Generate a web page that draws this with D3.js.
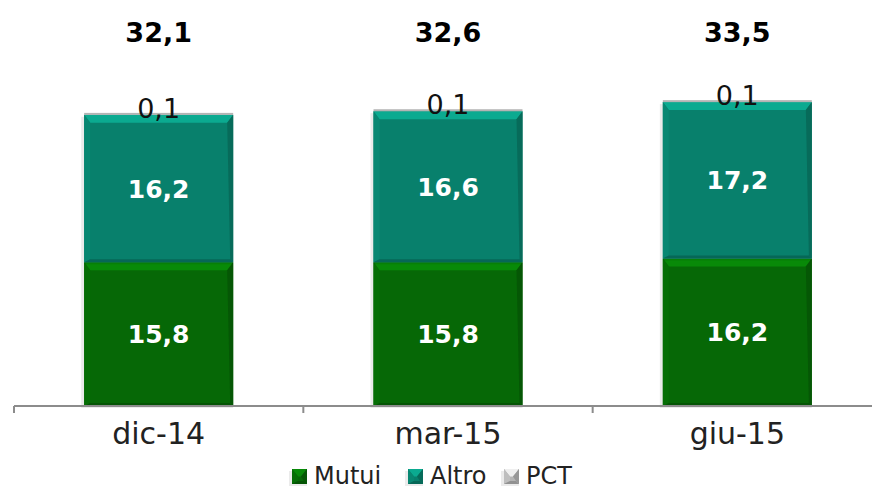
<!DOCTYPE html>
<html>
<head>
<meta charset="utf-8">
<script src="https://cdn.jsdelivr.net/npm/d3@7"></script>
<style>
  body { margin: 0; background: #fff; }
  svg { display: block; }
</style>
</head>
<body>
<script>
// data
var categories = ["dic-14", "mar-15", "giu-15"]
var mutui = [15.8, 15.8, 16.2]
var altro = [16.2, 16.6, 17.2]
var pct = [0.1, 0.1, 0.1]
var totals = ["32,1", "32,6", "33,5"]
var seriesNames = ["Mutui", "Altro", "PCT"]
var seriesColors = ["#066806", "#08806c", "#b4b4b4"]

var W = 872, H = 489
var font = "'DejaVu Sans', 'Noto Sans', sans-serif"

var d = d3.select("body").append("svg")
    .attr("width", W)
    .attr("height", H)

var x = d3.scaleBand()
    .domain(categories)
    .range([14, 882])
    .paddingInner(0.485)
    .paddingOuter(0.2425)

var y = d3.scaleLinear()
    .domain([0, 40])
    .range([406, 42])

function fmt(v) {
    return v.toFixed(1).replace(".", ",")
}

// lighten / darken helpers
function shade(c, k) {
    var col = d3.color(c)
    return k > 0 ? col.brighter(k).formatHex() : col.darker(-k).formatHex()
}

// draws a bevelled rectangle like the office chart style
function bevel(g, bx, by, bw, bh, color) {
    g.append("rect")
        .attr("x", bx - 3).attr("y", by + 2)
        .attr("width", bw + 3).attr("height", bh)
        .attr("fill", "#000").attr("opacity", 0.08)
    g.append("rect")
        .attr("x", bx).attr("y", by)
        .attr("width", bw).attr("height", bh)
        .attr("fill", color)
    var t = Math.min(8, bh / 2), s = Math.min(6, bh / 2), b = Math.min(3, bh / 2)
    if (bh < 4) return
    // top
    g.append("polygon")
        .attr("points", [[bx, by], [bx + bw, by], [bx + bw - s, by + t], [bx + s, by + t]].join(" "))
        .attr("fill", shade(color, 0.8))
    // left
    g.append("polygon")
        .attr("points", [[bx, by], [bx + s, by + t], [bx + s, by + bh - b], [bx, by + bh]].join(" "))
        .attr("fill", shade(color, 0.15))
    // right
    g.append("polygon")
        .attr("points", [[bx + bw, by], [bx + bw, by + bh], [bx + bw - b, by + bh - b], [bx + bw - s, by + t]].join(" "))
        .attr("fill", shade(color, -0.5))
    // bottom
    g.append("polygon")
        .attr("points", [[bx, by + bh], [bx + bw, by + bh], [bx + bw - b, by + bh - b], [bx + s, by + bh - b]].join(" "))
        .attr("fill", shade(color, -0.6))
}

var bars = d.append("g")

categories.forEach(function (c, i) {
    var bx = x(c), bw = x.bandwidth()
    var y0 = y(0), y1 = y(mutui[i]), y2 = y(mutui[i] + altro[i]), y3 = y(mutui[i] + altro[i] + pct[i])
    bevel(bars, bx, y1, bw, y0 - y1, seriesColors[0])
    bevel(bars, bx, y2, bw, y1 - y2, seriesColors[1])
    bars.append("rect")
        .attr("x", bx).attr("y", y3 - 1)
        .attr("width", bw).attr("height", Math.max(2, y2 - y3 + 1))
        .attr("fill", seriesColors[2])

    var cx = bx + bw / 2
    bars.append("text")
        .attr("x", cx).attr("y", (y0 + y1) / 2 + 9)
        .attr("text-anchor", "middle")
        .style("font", "bold 25px " + font)
        .attr("fill", "#fff")
        .text(fmt(mutui[i]))
    bars.append("text")
        .attr("x", cx).attr("y", (y1 + y2) / 2 + 9)
        .attr("text-anchor", "middle")
        .style("font", "bold 25px " + font)
        .attr("fill", "#fff")
        .text(fmt(altro[i]))
    bars.append("text")
        .attr("x", cx).attr("y", y3 + 4)
        .attr("text-anchor", "middle")
        .style("font", "27px " + font)
        .attr("fill", "#111")
        .text(fmt(pct[i]))
    bars.append("text")
        .attr("x", cx).attr("y", 42)
        .attr("text-anchor", "middle")
        .style("font", "bold 27px " + font)
        .attr("fill", "#000")
        .text(totals[i])
})

// axis
var axis = d.append("g")
    .attr("transform", "translate(0," + y(0) + ")")
    .call(d3.axisBottom(x).tickSize(0).tickPadding(17))
axis.select(".domain").attr("stroke", "#8c8c8c").attr("stroke-width", 2)
    .attr("d", "M14,0H882")
axis.selectAll(".tick text")
    .style("font", "30px " + font)
    .attr("fill", "#222")
var bounds = [0, 1, 2, 3].map(function (k) { return 14 + k * x.step() })
axis.selectAll(".sep").data(bounds).enter().append("line")
    .attr("x1", function (v) { return v }).attr("x2", function (v) { return v })
    .attr("y1", 0).attr("y2", 7)
    .attr("stroke", "#8c8c8c").attr("stroke-width", 2)

// legend
var legX = [292, 408, 504]
var leg = d.append("g").attr("transform", "translate(0,476)")
seriesNames.forEach(function (n, i) {
    var g = leg.append("g").attr("transform", "translate(" + legX[i] + ",0)")
    bevel(g, 0, -7, 15, 15, seriesColors[i])
    g.append("text")
        .attr("x", 22).attr("y", 8)
        .style("font", "24px " + font)
        .attr("fill", "#222")
        .text(n)
})
</script>
</body>
</html>
